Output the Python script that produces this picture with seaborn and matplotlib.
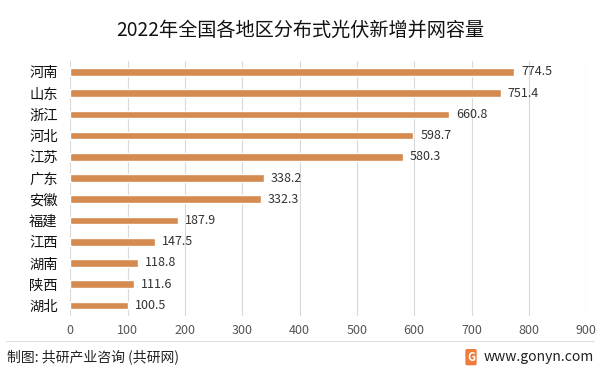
import matplotlib
matplotlib.use("Agg")
import matplotlib.pyplot as plt
import seaborn as sns
import pandas as pd

# 数据
regions = ["河南", "山东", "浙江", "河北", "江苏", "广东", "安徽", "福建", "江西", "湖南", "陕西", "湖北"]
capacity = [774.5, 751.4, 660.8, 598.7, 580.3, 338.2, 332.3, 187.9, 147.5, 118.8, 111.6, 100.5]
x_ticks = [0, 100, 200, 300, 400, 500, 600, 700, 800, 900]

df = pd.DataFrame({"地区": regions, "容量": capacity})

sns.set_theme(style="white")
plt.rcParams['font.family'] = ['Noto Sans CJK SC', 'DejaVu Sans']

fig = plt.figure(figsize=(6, 3.74), dpi=100)
ax = fig.add_axes([0.117, 0.155, 0.86, 0.681])

sns.barplot(data=df, x="容量", y="地区", color="#D58B4F", saturation=1,
            width=0.36, ax=ax, zorder=3)

for i, v in enumerate(capacity):
    ax.text(v + 12, i, f"{v}", va="center", ha="left", fontsize=9, color="#333333")

ax.set_xlim(0, 900)
ax.set_xticks(x_ticks)
ax.set_xlabel("")
ax.set_ylabel("")
ax.tick_params(axis="x", labelsize=9, labelcolor="#555555", length=0, pad=6)
ax.tick_params(axis="y", labelsize=10.3, labelcolor="#111111", length=0, pad=9)
ax.xaxis.grid(True, color="#D9D9D9", linewidth=0.8, zorder=0)
for s in ax.spines.values():
    s.set_visible(False)

fig.text(0.5, 0.918, "2022年全国各地区分布式光伏新增并网容量", ha="center", va="center",
         fontsize=13.8, color="#111111")

# 底部分隔线与来源
fig.add_artist(plt.Line2D([0.01, 0.99], [0.088, 0.088], color="#E0E0E0", linewidth=0.8))
fig.text(0.012, 0.045, "制图: 共研产业咨询 (共研网)", ha="left", va="center",
         fontsize=10, color="#222222")
fig.text(0.99, 0.045, "www.gonyn.com", ha="right", va="center",
         fontsize=10, color="#222222")
fig.text(0.785, 0.045, "G", ha="center", va="center", fontsize=8,
         fontweight="bold", color="white",
         bbox=dict(boxstyle="round,pad=0.15", fc="#EE7D3B", ec="none"))

fig.savefig("out.png", dpi=100)
plt.close(fig)
